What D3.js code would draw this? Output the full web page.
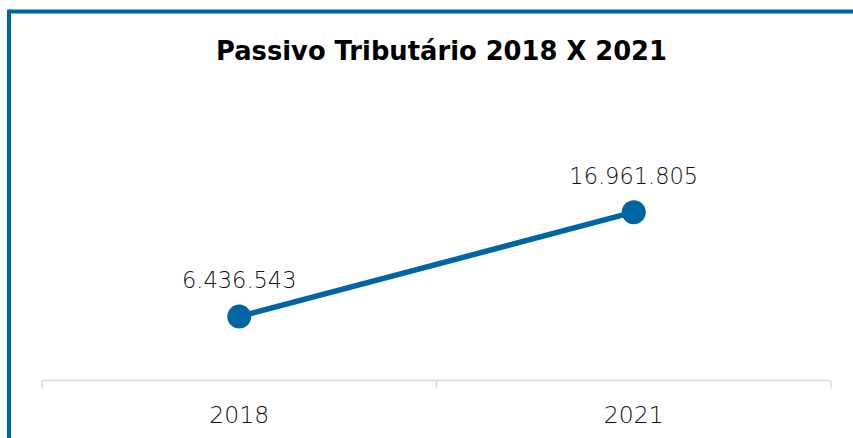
<!DOCTYPE html>
<html>
<head>
<meta charset="utf-8">
<script src="https://cdn.jsdelivr.net/npm/d3@7"></script>
<style>
  html, body { margin: 0; padding: 0; background: #fff; }
  svg { display: block; }
  text { font-family: "DejaVu Sans", sans-serif; }
</style>
</head>
<body>
<svg id="chart" width="853" height="438"></svg>
<script>
const title = "Passivo Tributário 2018 X 2021";
const categories = ["2018", "2021"];
const values = [6436543, 16961805];
const yDomain = [0, 20000000];

const svg = d3.select("#chart");
const W = 853, H = 438;
const blue = "#0065a4";

svg.append("rect").attr("x", 0).attr("y", 0).attr("width", W).attr("height", H).attr("fill", "#fff");
svg.append("line").attr("x1", 9).attr("x2", W).attr("y1", 11.5).attr("y2", 11.5)
  .attr("stroke", blue).attr("stroke-width", 4);
svg.append("line").attr("x1", 9).attr("x2", 9).attr("y1", 9.5).attr("y2", H)
  .attr("stroke", blue).attr("stroke-width", 4);

svg.append("text").attr("x", 441.5).attr("y", 60)
  .attr("text-anchor", "middle").attr("font-size", 26.5).attr("font-weight", "bold")
  .attr("fill", "#000").attr("textLength", 451).attr("lengthAdjust", "spacingAndGlyphs")
  .text(title);

const plotLeft = 42, plotRight = 831, plotBottom = 380.5;
const x = d3.scaleBand().domain(categories).range([plotLeft, plotRight]).paddingInner(0).paddingOuter(0);
const y = d3.scaleLinear().domain(yDomain).range([plotBottom, 182]);

const axis = d3.axisBottom(x).tickSize(0).tickPadding(0).tickFormat(d => d);
const gx = svg.append("g").attr("transform", `translate(0,${plotBottom})`).call(axis);
gx.select(".domain").remove();
gx.selectAll(".tick text").attr("y", 42.5).attr("dy", 0)
  .attr("font-size", 23.5).attr("font-weight", 300).attr("fill", "#111")
  .attr("font-family", "Lato, 'DejaVu Sans', sans-serif");
gx.selectAll(".tick line").remove();
svg.append("line").attr("x1", plotLeft).attr("x2", plotRight).attr("y1", plotBottom).attr("y2", plotBottom)
  .attr("stroke", "#d9d9d9").attr("stroke-width", 1.5);
const boundaries = [plotLeft].concat(categories.map(c => x(c) + x.bandwidth()));
svg.selectAll(".tickmark").data(boundaries).join("line")
  .attr("x1", d => d).attr("x2", d => d).attr("y1", plotBottom).attr("y2", plotBottom + 8)
  .attr("stroke", "#d9d9d9").attr("stroke-width", 1.5);

const cx = c => x(c) + x.bandwidth() / 2;
const data = categories.map((c, i) => ({ c, v: values[i] }));

svg.append("path").datum(data)
  .attr("d", d3.line().x(d => cx(d.c)).y(d => y(d.v)))
  .attr("fill", "none").attr("stroke", blue).attr("stroke-width", 5.5);

svg.selectAll(".pt").data(data).join("circle")
  .attr("cx", d => cx(d.c)).attr("cy", d => y(d.v)).attr("r", 12).attr("fill", blue);

const fmt = v => d3.format(",")(v).replace(/,/g, ".");
svg.selectAll(".lbl").data(data).join("text")
  .attr("x", d => cx(d.c)).attr("y", d => y(d.v) - 28.5)
  .attr("text-anchor", "middle").attr("font-size", 22.5).attr("font-weight", 200).attr("fill", "#111")
  .text(d => fmt(d.v));
</script>
</body>
</html>
